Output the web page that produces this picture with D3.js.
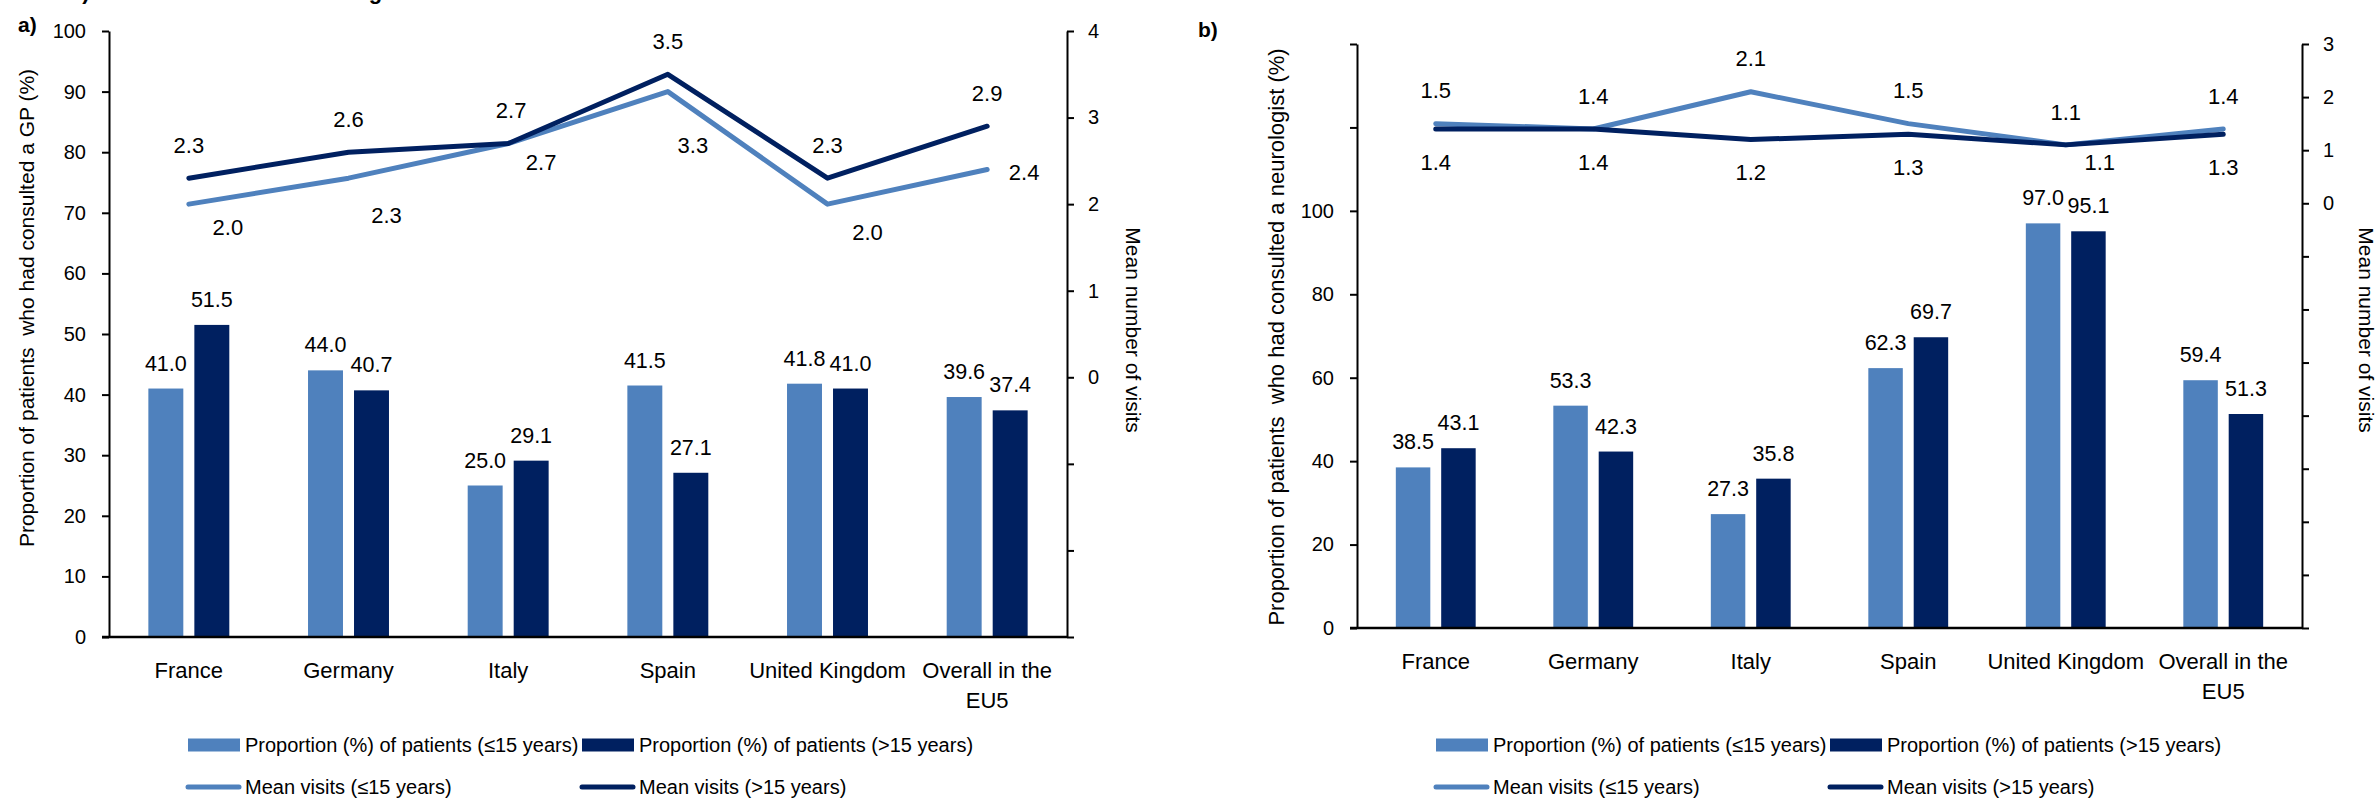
<!DOCTYPE html>
<html>
<head>
<meta charset="utf-8">
<script src="https://cdn.jsdelivr.net/npm/d3@7"></script>
<style>
body { margin:0; background:#fff; }
svg text { font-family:"Liberation Sans", Arial, sans-serif; fill:#000; }
</style>
</head>
<body>
<svg id="chart" width="2377" height="799"></svg>
<script>
// categories (\n = line break in the axis label)
var countries = ["France", "Germany", "Italy", "Spain", "United Kingdom", "Overall in the\nEU5"]

// panel a) GP consultations
var gpPropYoung = [41.0, 44.0, 25.0, 41.5, 41.8, 39.6]
var gpPropOld = [51.5, 40.7, 29.1, 27.1, 41.0, 37.4]
var gpVisitsYoung = [2.0, 2.3, 2.7, 3.3, 2.0, 2.4]
var gpVisitsOld = [2.3, 2.6, 2.7, 3.5, 2.3, 2.9]

// panel b) neurologist consultations
var neuroPropYoung = [38.5, 53.3, 27.3, 62.3, 97.0, 59.4]
var neuroPropOld = [43.1, 42.3, 35.8, 69.7, 95.1, 51.3]
var neuroVisitsYoung = [1.5, 1.4, 2.1, 1.5, 1.1, 1.4]
var neuroVisitsOld = [1.4, 1.4, 1.2, 1.3, 1.1, 1.3]

// tick values
var leftTicksA = [0, 10, 20, 30, 40, 50, 60, 70, 80, 90, 100]
var rightTicksA = [-3, -2, -1, 0, 1, 2, 3, 4]
var leftTicksB = [0, 20, 40, 60, 80, 100, 120, 140]
var rightTicksB = [-8, -7, -6, -5, -4, -3, -2, -1, 0, 1, 2, 3]

var legendLabels = ["Proportion (%) of patients (\u226415 years)", "Proportion (%) of patients (>15 years)",
                    "Mean visits (\u226415 years)", "Mean visits (>15 years)"]

var lightBlue = "#4f81bd"
var darkBlue = "#002060"

var svg = d3.select("#chart")

function drawPanel(p) {
  var g = svg.append("g")

  var x0 = d3.scaleBand().domain(countries).range([p.left, p.right])
  var pairW = x0.bandwidth() * 0.507
  var x1 = d3.scaleBand().domain([0, 1]).range([-pairW / 2, pairW / 2]).paddingInner(0.24)

  var yL = d3.scaleLinear().domain(p.leftDomain).range([p.bottom, p.top])
  var yR = d3.scaleLinear().domain(p.rightDomain).range([p.bottom, p.top])

  // left axis
  var axL = g.append("g").attr("transform", "translate(" + p.left + ",0)")
    .call(d3.axisLeft(yL).tickValues(p.leftTicks).tickSize(7).tickSizeOuter(0).tickPadding(16)
      .tickFormat(function(d) { return d <= p.leftLabelMax ? d : "" }))
  // right axis
  var axR = g.append("g").attr("transform", "translate(" + p.right + ",0)")
    .call(d3.axisRight(yR).tickValues(p.rightTicks).tickSize(7).tickSizeOuter(0).tickPadding(14)
      .tickFormat(function(d) { return d >= 0 ? d : "" }))
  ;[axL, axR].forEach(function(ax) {
    ax.selectAll("path, line").attr("stroke", "#000").attr("stroke-width", 2)
    ax.selectAll("text").attr("font-size", "20px").attr("fill", "#000")
      .style("font-family", '"Liberation Sans", Arial, sans-serif')
  })

  // bars
  var series = [p.propYoung, p.propOld]
  var colors = [lightBlue, darkBlue]
  series.forEach(function(vals, s) {
    g.append("g").selectAll("rect").data(vals).enter()
      .append("rect")
      .attr("x", function(d, i) { return x0(countries[i]) + x0.bandwidth() / 2 + x1(s) })
      .attr("y", function(d) { return yL(d) })
      .attr("width", x1.bandwidth())
      .attr("height", function(d) { return yL(0) - yL(d) })
      .attr("fill", colors[s])
    g.append("g").selectAll("text").data(vals).enter()
      .append("text")
      .attr("x", function(d, i) { return x0(countries[i]) + x0.bandwidth() / 2 + x1(s) + x1.bandwidth() / 2 })
      .attr("y", function(d) { return yL(d) - 18 })
      .attr("text-anchor", "middle")
      .attr("font-size", "21.5px")
      .text(function(d) { return d3.format(".1f")(d) })
  })

  // baseline
  g.append("line")
    .attr("x1", p.left - 7).attr("x2", p.right)
    .attr("y1", yL(0)).attr("y2", yL(0))
    .attr("stroke", "#000").attr("stroke-width", 2.5)

  // lines for mean visits
  var cx = function(i) { return x0(countries[i]) + x0.bandwidth() / 2 }
  var line = d3.line().x(function(d, i) { return cx(i) }).y(function(d) { return yR(d) })
  var lineSeries = [p.visitsYoung, p.visitsOld]
  lineSeries.forEach(function(vals, s) {
    g.append("path").datum(vals)
      .attr("d", line)
      .attr("fill", "none")
      .attr("stroke", colors[s])
      .attr("stroke-width", 5)
      .attr("stroke-linejoin", "round")
      .attr("stroke-linecap", "round")
  })
  lineSeries.forEach(function(vals, s) {
    var offs = p.lineLabelOffsets[s]
    g.append("g").selectAll("text").data(vals).enter()
      .append("text")
      .attr("x", function(d, i) { return cx(i) + offs[i][0] })
      .attr("y", function(d, i) { return yR(d) + offs[i][1] })
      .attr("dy", "0.35em")
      .attr("text-anchor", "middle")
      .attr("font-size", "22px")
      .text(function(d) { return d3.format(".1f")(d) })
  })

  // category labels
  g.append("g").selectAll("text").data(countries).enter()
    .append("text")
    .attr("x", function(d) { return x0(d) + x0.bandwidth() / 2 })
    .attr("y", yL(0) + 41)
    .attr("text-anchor", "middle")
    .attr("font-size", "22px")
    .each(function(d) {
      var t = d3.select(this)
      d.split("\n").forEach(function(part, k) {
        t.append("tspan").attr("x", t.attr("x")).attr("dy", k == 0 ? 0 : 30).text(part)
      })
    })

  // axis titles
  g.append("text")
    .attr("transform", "translate(" + p.leftTitleX + "," + p.leftTitleY + ") rotate(-90)")
    .attr("text-anchor", "middle").attr("dy", "0.35em")
    .attr("font-size", p.leftTitleSize)
    .style("white-space", "pre")
    .text(p.leftTitle)
  g.append("text")
    .attr("transform", "translate(" + p.rightTitleX + "," + p.rightTitleY + ") rotate(90)")
    .attr("text-anchor", "middle").attr("dy", "0.35em")
    .attr("font-size", "21px")
    .text("Mean number of visits")

  // panel letter
  g.append("text").attr("x", p.letterX).attr("y", p.letterY)
    .attr("font-size", "21px").attr("font-weight", "bold").text(p.letter)

  // legend
  var lx = [p.left + 79, p.left + 473]
  var ly = [745, 787]
  legendLabels.forEach(function(lab, k) {
    var col = k % 2, row = Math.floor(k / 2)
    if (row == 0) {
      g.append("rect").attr("x", lx[col]).attr("y", ly[row] - 6.5)
        .attr("width", 52).attr("height", 13).attr("fill", colors[col])
    } else {
      g.append("line").attr("x1", lx[col]).attr("x2", lx[col] + 51)
        .attr("y1", ly[row]).attr("y2", ly[row])
        .attr("stroke", colors[col]).attr("stroke-width", 5).attr("stroke-linecap", "round")
    }
    g.append("text").attr("x", lx[col] + 57).attr("y", ly[row]).attr("dy", "0.35em")
      .attr("font-size", "20px").text(lab)
  })
}

drawPanel({
  left: 109, right: 1067, top: 31, bottom: 637,
  leftDomain: [0, 100], rightDomain: [-3, 4],
  leftTicks: leftTicksA, rightTicks: rightTicksA, leftLabelMax: 100,
  propYoung: gpPropYoung, propOld: gpPropOld,
  visitsYoung: gpVisitsYoung, visitsOld: gpVisitsOld,
  lineLabelOffsets: [
    [[39, 23], [38, 37], [33, 19], [25, 54], [40, 28], [37, 3]],
    [[0, -33], [0, -33], [3, -33], [0, -33], [0, -33], [0, -33]]
  ],
  leftTitle: "Proportion of patients  who had consulted a GP (%)", leftTitleSize: "21px",
  leftTitleX: 27, leftTitleY: 308,
  rightTitleX: 1133, rightTitleY: 330,
  letter: "a)", letterX: 18, letterY: 32
})

drawPanel({
  left: 1357, right: 2302, top: 44, bottom: 628,
  leftDomain: [0, 140], rightDomain: [-8, 3],
  leftTicks: leftTicksB, rightTicks: rightTicksB, leftLabelMax: 100,
  propYoung: neuroPropYoung, propOld: neuroPropOld,
  visitsYoung: neuroVisitsYoung, visitsOld: neuroVisitsOld,
  lineLabelOffsets: [
    [[0, -33], [0, -33], [0, -33], [0, -33], [0, -33], [0, -33]],
    [[0, 33], [0, 33], [0, 33], [0, 33], [34, 17], [0, 33]]
  ],
  leftTitle: "Proportion of patients  who had consulted a neurologist (%)", leftTitleSize: "22px",
  leftTitleX: 1276, leftTitleY: 337,
  rightTitleX: 2366, rightTitleY: 330,
  letter: "b)", letterX: 1198, letterY: 37
})

// figure title, cut off at the top edge of the picture
svg.append("text").attr("x", 70).attr("y", -1)
  .attr("font-size", "22px").attr("font-weight", "bold")
  .text("3) Visits to a GP and neurologist")
</script>
</body>
</html>
